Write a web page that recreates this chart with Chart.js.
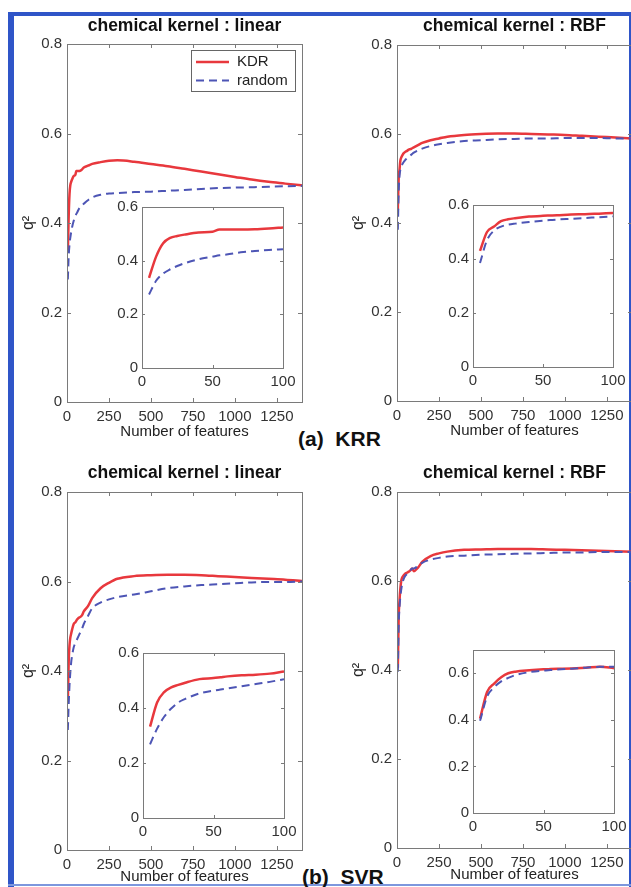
<!DOCTYPE html>
<html>
<head>
<meta charset="utf-8">
<script src="https://cdn.jsdelivr.net/npm/chart.js@4.4.1/dist/chart.umd.min.js"></script>
<style>
  html, body { margin: 0; padding: 0; background: #fff; width: 631px; height: 887px; overflow: hidden; }
  body { position: relative; font-family: "Liberation Sans", Arial, sans-serif; }
  canvas { position: absolute; }
  .frame { position: absolute; background: #2f55c8; }
  .tag { position: absolute; font-weight: bold; font-size: 21px; line-height: 24px; color: #111; white-space: pre; }
</style>
</head>
<body>
<div class="frame" style="left:8px;top:12px;width:6px;height:875px"></div>
<div class="frame" style="left:8px;top:12px;width:623px;height:4px"></div>
<div class="frame" style="left:629px;top:12px;width:2px;height:875px"></div>
<div class="frame" style="left:8px;top:884px;width:623px;height:2px;background:#7d97dd"></div>
<div class="tag" style="left:298px;top:427px">(a)  KRR</div>
<div class="tag" style="left:302px;top:865px">(b)  SVR</div>
<script>
// number of selected features, shared by all curves (insets show the part <= 100)
const features = [5, 10, 15, 20, 25, 30, 40, 50, 55, 60, 70, 80, 90, 100, 125, 150, 200, 250, 300, 400, 500, 600, 700, 800, 900, 1000, 1100, 1200, 1300, 1400];

// q^2 for KRR
const krrLinearKdr = [0.336, 0.415, 0.465, 0.485, 0.492, 0.497, 0.505, 0.508, 0.516, 0.516, 0.516, 0.517, 0.520, 0.524, 0.528, 0.532, 0.536, 0.539, 0.540, 0.537, 0.532, 0.527, 0.521, 0.515, 0.509, 0.503, 0.497, 0.492, 0.488, 0.484];
const krrLinearRandom = [0.274, 0.325, 0.352, 0.368, 0.380, 0.390, 0.405, 0.415, 0.420, 0.423, 0.431, 0.436, 0.440, 0.443, 0.451, 0.457, 0.463, 0.466, 0.467, 0.469, 0.470, 0.472, 0.474, 0.476, 0.478, 0.479, 0.480, 0.481, 0.482, 0.483];
const krrRbfKdr = [0.430, 0.500, 0.520, 0.540, 0.547, 0.551, 0.557, 0.560, 0.561, 0.562, 0.565, 0.566, 0.568, 0.570, 0.575, 0.580, 0.586, 0.590, 0.594, 0.598, 0.600, 0.601, 0.601, 0.600, 0.599, 0.598, 0.596, 0.594, 0.592, 0.590];
const krrRbfRandom = [0.385, 0.470, 0.505, 0.520, 0.527, 0.531, 0.537, 0.542, 0.544, 0.546, 0.549, 0.552, 0.555, 0.558, 0.563, 0.567, 0.573, 0.577, 0.580, 0.584, 0.586, 0.588, 0.589, 0.590, 0.590, 0.591, 0.591, 0.591, 0.590, 0.590];

// q^2 for SVR
const svrLinearKdr = [0.332, 0.420, 0.458, 0.475, 0.484, 0.492, 0.505, 0.509, 0.512, 0.515, 0.519, 0.521, 0.525, 0.533, 0.545, 0.563, 0.585, 0.597, 0.606, 0.612, 0.614, 0.615, 0.615, 0.614, 0.612, 0.610, 0.608, 0.606, 0.604, 0.601];
const svrLinearRandom = [0.268, 0.325, 0.368, 0.398, 0.420, 0.433, 0.453, 0.463, 0.467, 0.471, 0.479, 0.487, 0.495, 0.505, 0.523, 0.540, 0.553, 0.560, 0.565, 0.571, 0.578, 0.585, 0.589, 0.592, 0.594, 0.596, 0.598, 0.599, 0.599, 0.600];
const svrRbfKdr = [0.405, 0.520, 0.556, 0.583, 0.600, 0.607, 0.613, 0.617, 0.618, 0.619, 0.621, 0.624, 0.628, 0.622, 0.630, 0.643, 0.656, 0.662, 0.666, 0.670, 0.671, 0.672, 0.672, 0.672, 0.671, 0.670, 0.669, 0.668, 0.667, 0.666];
const svrRbfRandom = [0.396, 0.500, 0.540, 0.565, 0.580, 0.592, 0.605, 0.612, 0.614, 0.616, 0.620, 0.624, 0.628, 0.628, 0.634, 0.641, 0.648, 0.652, 0.655, 0.657, 0.659, 0.660, 0.661, 0.662, 0.663, 0.664, 0.664, 0.665, 0.665, 0.665];

const seriesLabels = ['KDR', 'random'];
const kernelTitles = ['chemical kernel : linear', 'chemical kernel : RBF'];
const featureTicks = [0, 250, 500, 750, 1000, 1250];
const qTicks = [0, 0.2, 0.4, 0.6, 0.8];
const insetFeatureTicks = [0, 50, 100];
const insetQTicks = [0, 0.2, 0.4, 0.6];

Chart.defaults.font.family = '"Liberation Sans", Arial, sans-serif';
Chart.defaults.color = '#333';
Chart.defaults.animation = false;

const KDR_COLOR = '#e8383d';
const RANDOM_COLOR = '#4d55b5';
const AXIS_COLOR = '#7a7a7a';

// box around the axes with inward tick marks, matlab style
const matlabAxes = {
  id: 'matlabAxes',
  beforeDatasetsDraw(chart, args, opts) {
    if (!opts.fill) return;
    const a = chart.chartArea;
    chart.ctx.save();
    chart.ctx.fillStyle = '#fff';
    chart.ctx.fillRect(a.left, a.top, a.width, a.height);
    chart.ctx.restore();
  },
  afterDatasetsDraw(chart, args, opts) {
    const { ctx, chartArea: a, scales } = chart;
    const len = opts.tickLen || 4;
    ctx.save();
    ctx.strokeStyle = AXIS_COLOR;
    ctx.lineWidth = 1;
    ctx.beginPath();
    scales.x.ticks.forEach(t => {
      const px = Math.round(scales.x.getPixelForValue(t.value)) + 0.5;
      ctx.moveTo(px, a.bottom); ctx.lineTo(px, a.bottom - len);
      ctx.moveTo(px, a.top); ctx.lineTo(px, a.top + len);
    });
    scales.y.ticks.forEach(t => {
      const py = Math.round(scales.y.getPixelForValue(t.value)) + 0.5;
      ctx.moveTo(a.left, py); ctx.lineTo(a.left + len, py);
      ctx.moveTo(a.right, py); ctx.lineTo(a.right - len, py);
    });
    ctx.stroke();
    ctx.strokeRect(Math.round(a.left) + 0.5, Math.round(a.top) + 0.5, Math.round(a.width), Math.round(a.height));
    ctx.restore();
  }
};

// boxed legend in the upper right corner of the plot
const keyBox = {
  id: 'keyBox',
  afterDraw(chart, args, opts) {
    if (!opts.show) return;
    const { ctx, chartArea: a } = chart;
    const w = 104, h = 41;
    const x = Math.round(a.right - 7 - w), y = Math.round(a.top + 6);
    ctx.save();
    ctx.fillStyle = '#fff';
    ctx.fillRect(x, y, w, h);
    ctx.strokeStyle = '#666';
    ctx.lineWidth = 1;
    ctx.strokeRect(x + 0.5, y + 0.5, w, h);
    chart.data.datasets.forEach((ds, i) => {
      const cy = y + 12 + i * 18.5;
      ctx.beginPath();
      ctx.setLineDash(ds.borderDash || []);
      ctx.strokeStyle = ds.borderColor;
      ctx.lineWidth = ds.borderWidth;
      ctx.moveTo(x + 5, cy);
      ctx.lineTo(x + 38, cy);
      ctx.stroke();
      ctx.setLineDash([]);
      ctx.fillStyle = '#222';
      ctx.font = '15px "Liberation Sans", Arial, sans-serif';
      ctx.textBaseline = 'middle';
      ctx.fillText(ds.label, x + 46, cy);
    });
    ctx.restore();
  }
};

function place(box, pad) {
  const c = document.createElement('canvas');
  const w = box.right - box.left + pad.left + pad.right;
  const h = box.bottom - box.top + pad.top + pad.bottom;
  c.width = w;
  c.height = h;
  c.style.left = (box.left - pad.left) + 'px';
  c.style.top = (box.top - pad.top) + 'px';
  c.style.width = w + 'px';
  c.style.height = h + 'px';
  document.body.appendChild(c);
  return c;
}

function series(kdr, rnd, maxX) {
  const pick = arr => features.map((f, i) => ({ x: f, y: arr[i] })).filter(p => p.x <= maxX);
  return [
    { label: seriesLabels[0], data: pick(kdr), borderColor: KDR_COLOR, borderWidth: 2.5, pointRadius: 0, cubicInterpolationMode: 'monotone', order: 1 },
    { label: seriesLabels[1], data: pick(rnd), borderColor: RANDOM_COLOR, borderWidth: 2, borderDash: [8, 5], pointRadius: 0, cubicInterpolationMode: 'monotone', order: 0 }
  ];
}

const useTicks = list => scale => { scale.ticks = list.map(v => ({ value: v })); };
const noGrid = { display: false, drawTicks: false };

function mainChart(box, title, kdr, rnd, withKey) {
  const pad = { left: 67, right: 15, top: 44, bottom: 44 };
  const titleLH = 17.5 * 1.2;
  const titleTop = pad.top - box.titleGap - titleLH / 2;
  new Chart(place(box, pad), {
    type: 'line',
    data: { datasets: series(kdr, rnd, Infinity) },
    options: {
      responsive: false,
      animation: false,
      layout: { padding: { right: pad.right } },
      plugins: {
        legend: { display: false },
        tooltip: { enabled: false },
        title: {
          display: true, fullSize: false, text: title, color: '#111',
          font: { size: 17.5, weight: 'bold' },
          padding: { top: titleTop, bottom: pad.top - titleLH - titleTop }
        },
        matlabAxes: { tickLen: 4 },
        keyBox: { show: withKey }
      },
      scales: {
        x: {
          type: 'linear', min: 0, max: 1400,
          afterBuildTicks: useTicks(featureTicks),
          afterFit: s => { s.height = pad.bottom; },
          grid: noGrid, border: { display: false },
          ticks: { font: { size: 15 }, padding: 6, maxRotation: 0, autoSkip: false, callback: v => String(v) },
          title: { display: true, text: 'Number of features', color: '#222', font: { size: 15 },
                   padding: { top: 0, bottom: pad.bottom - box.xTitleGap - 9 } }
        },
        y: {
          min: 0, max: 0.8,
          afterBuildTicks: useTicks(qTicks),
          afterFit: s => { s.width = pad.left; },
          grid: noGrid, border: { display: false },
          ticks: { font: { size: 15 }, padding: 5, autoSkip: false, callback: v => String(v) },
          title: { display: true, text: 'q²', color: '#222', font: { size: 16 }, padding: { top: 19, bottom: 0 } }
        }
      }
    },
    plugins: [matlabAxes, keyBox]
  });
}

function insetChart(box, kdr, rnd) {
  const pad = { left: 40, right: 20, top: 12, bottom: 30 };
  new Chart(place(box, pad), {
    type: 'line',
    data: { datasets: series(kdr, rnd, 100) },
    options: {
      responsive: false,
      animation: false,
      layout: { padding: { top: pad.top, right: pad.right } },
      plugins: {
        legend: { display: false },
        tooltip: { enabled: false },
        matlabAxes: { tickLen: 3, fill: true }
      },
      scales: {
        x: {
          type: 'linear', min: 0, max: 100,
          afterBuildTicks: useTicks(insetFeatureTicks),
          afterFit: s => { s.height = pad.bottom; },
          grid: noGrid, border: { display: false },
          ticks: { font: { size: 15 }, padding: 5, maxRotation: 0, autoSkip: false, callback: v => String(v) }
        },
        y: {
          min: 0, max: box.yMax,
          afterBuildTicks: useTicks(insetQTicks),
          afterFit: s => { s.width = pad.left; },
          grid: noGrid, border: { display: false },
          ticks: { font: { size: 15 }, padding: 4, autoSkip: false, callback: v => String(v) }
        }
      }
    },
    plugins: [matlabAxes]
  });
}

// (a) KRR
mainChart({ left: 67, right: 302, top: 44, bottom: 402, titleGap: 18, xTitleGap: 30 }, kernelTitles[0], krrLinearKdr, krrLinearRandom, true);
insetChart({ left: 142, right: 283, top: 206, bottom: 368, yMax: 0.6 }, krrLinearKdr, krrLinearRandom);
mainChart({ left: 397, right: 632, top: 45, bottom: 401, titleGap: 19, xTitleGap: 30 }, kernelTitles[1], krrRbfKdr, krrRbfRandom, false);
insetChart({ left: 473, right: 613, top: 204, bottom: 367, yMax: 0.6 }, krrRbfKdr, krrRbfRandom);

// (b) SVR
mainChart({ left: 67, right: 302, top: 492, bottom: 850, titleGap: 19, xTitleGap: 27 }, kernelTitles[0], svrLinearKdr, svrLinearRandom, false);
insetChart({ left: 143, right: 284, top: 652, bottom: 818, yMax: 0.6 }, svrLinearKdr, svrLinearRandom);
mainChart({ left: 397, right: 632, top: 492, bottom: 848, titleGap: 19, xTitleGap: 27 }, kernelTitles[1], svrRbfKdr, svrRbfRandom, false);
insetChart({ left: 473, right: 614, top: 649, bottom: 813, yMax: 0.7 }, svrRbfKdr, svrRbfRandom);
</script>
</body>
</html>
